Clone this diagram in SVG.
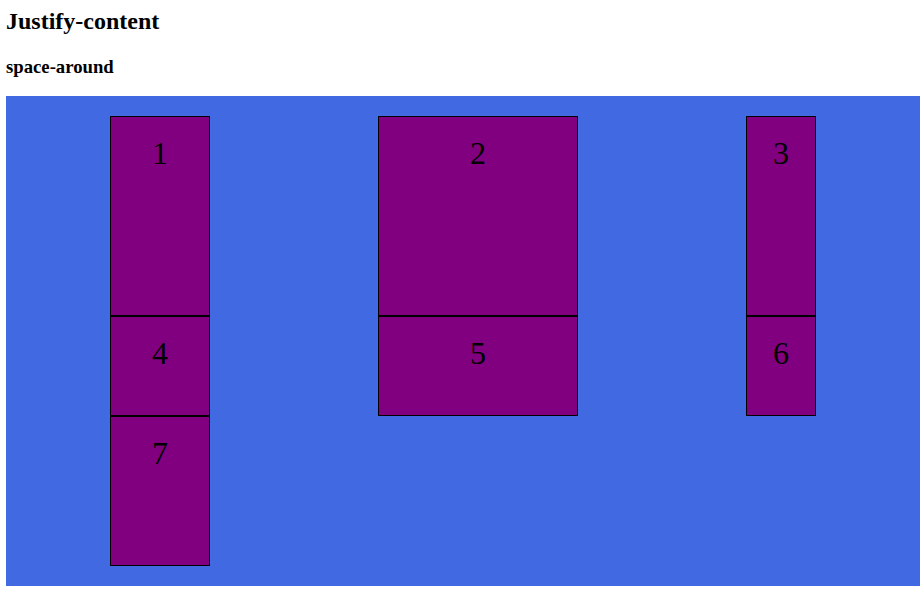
<svg xmlns="http://www.w3.org/2000/svg" width="924" height="592" viewBox="0 0 924 592">
<style>
.t{font-family:"Liberation Serif","Times New Roman",serif;font-weight:bold;fill:#000}
.box{fill:#800080;stroke:#000;stroke-width:1}
.n{font-family:"Liberation Serif","Times New Roman",serif;font-size:32px;fill:#000;text-anchor:middle}
</style>
<rect width="924" height="592" fill="#fff"/>
<text class="t" x="6" y="29" font-size="24">Justify-content</text>
<text class="t" x="6" y="73" font-size="18.72">space-around</text>
<rect id="container" x="6" y="96" width="914" height="490" fill="#4169E1"/>
<g id="node1"><rect class="box" x="110.5" y="116.5" width="99" height="199"/><text class="n" x="160" y="164">1</text></g>
<g id="node2"><rect class="box" x="378.5" y="116.5" width="199" height="199"/><text class="n" x="478" y="164">2</text></g>
<g id="node3"><rect class="box" x="746.5" y="116.5" width="69" height="199"/><text class="n" x="781" y="164">3</text></g>
<g id="node4"><rect class="box" x="110.5" y="316.5" width="99" height="99"/><text class="n" x="160" y="364">4</text></g>
<g id="node5"><rect class="box" x="378.5" y="316.5" width="199" height="99"/><text class="n" x="478" y="364">5</text></g>
<g id="node6"><rect class="box" x="746.5" y="316.5" width="69" height="99"/><text class="n" x="781" y="364">6</text></g>
<g id="node7"><rect class="box" x="110.5" y="416.5" width="99" height="149"/><text class="n" x="160" y="464">7</text></g>
<g id="connectors"></g>
</svg>
